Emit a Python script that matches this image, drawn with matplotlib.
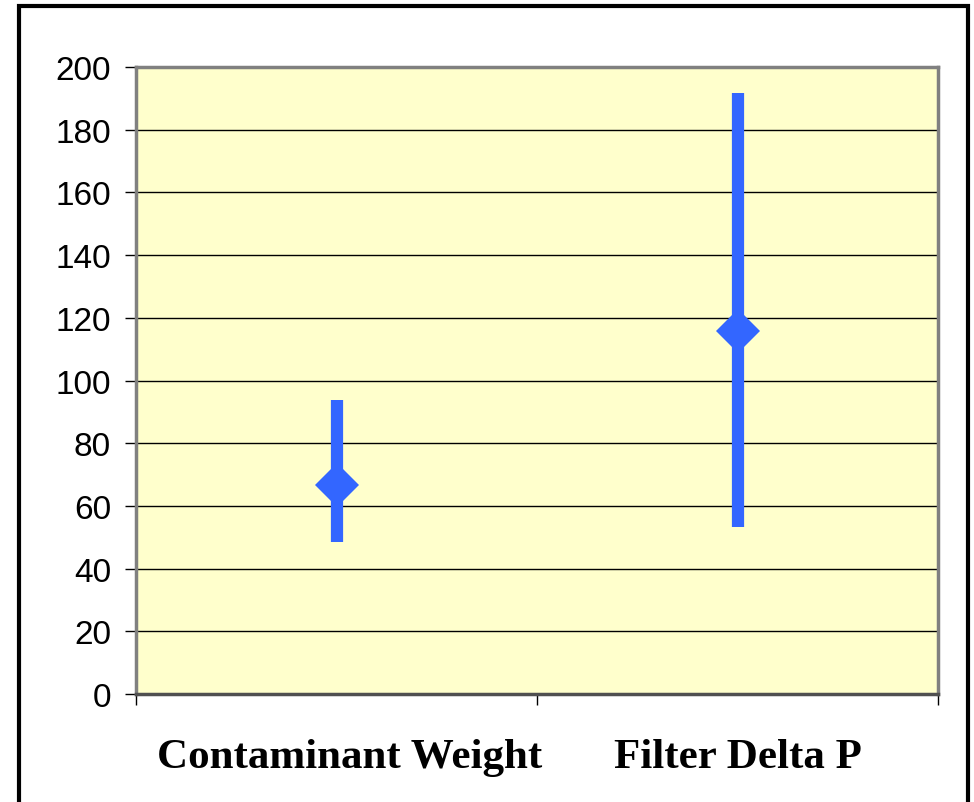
import numpy as np
import matplotlib.pyplot as plt
from matplotlib.patches import Rectangle

# ranges and mean values for each measured quantity
categories = ["Contaminant Weight", "Filter Delta P"]
low_vals = [48.5, 53.3]
high_vals = [93.8, 191.7]
mean_vals = [66.7, 115.8]
y_ticks = [0, 20, 40, 60, 80, 100, 120, 140, 160, 180, 200]

blue = "#3366FF"

fig = plt.figure(figsize=(9.74, 8.03), dpi=100)
W, H = 974, 803
ax = fig.add_axes([136 / W, 1 - 695 / H, (938 - 136) / W, (695 - 68) / H])
ax.set_facecolor("#FFFFCC")

x = np.arange(len(categories)) + 0.5

# vertical range bars with a diamond at the mean
ax.vlines(x, low_vals, high_vals, color=blue, linewidth=8.8, zorder=3)
ax.plot(x, mean_vals, linestyle="none", marker="D", markersize=22.5,
        color=blue, markeredgewidth=0, zorder=4)

ax.set_xlim(0, 2)
ax.set_ylim(0, 200)
ax.set_yticks(y_ticks)
ax.set_yticklabels([str(t) for t in y_ticks], fontfamily="Liberation Sans", fontsize=24)
ax.yaxis.grid(True, color="black", linewidth=1)
ax.set_axisbelow(True)
ax.tick_params(axis="y", length=8, width=1, color="black", pad=10)

ax.set_xticks([0, 1, 2])
ax.set_xticklabels([])
ax.tick_params(axis="x", direction="out", length=8, width=1, color="black")

for side in ["top", "right", "left"]:
    ax.spines[side].set_color("#808080")
    ax.spines[side].set_linewidth(2.5)
ax.spines["bottom"].set_color("#505050")
ax.spines["bottom"].set_linewidth(2.5)

# category labels under the plot area
label_x = [350 / W, 738 / W]
for lx, name in zip(label_x, categories):
    fig.text(lx, 1 - 758 / H, name, ha="center", va="center",
             fontfamily="Liberation Serif", fontweight="bold", fontsize=31)

# outer frame around the whole chart
frame = Rectangle((19 / W, -0.05), (968 - 19) / W, 1.05 - 7 / H,
                  transform=fig.transFigure, fill=False, edgecolor="black",
                  linewidth=3, clip_on=False)
fig.patches.append(frame)

fig.savefig("out.png", dpi=100)
